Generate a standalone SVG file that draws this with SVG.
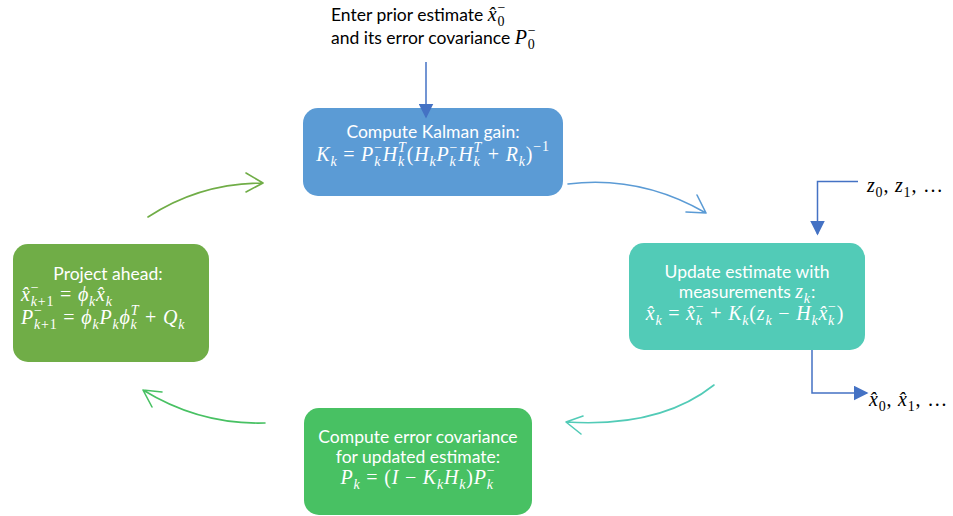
<svg xmlns="http://www.w3.org/2000/svg" width="953" height="516" viewBox="0 0 953 516">
  <style>
    .lbl { font-family: "Lato", "Liberation Sans", sans-serif; font-size: 17.5px; fill: #ffffff; }
    .cap { font-family: "Lato", "Liberation Sans", sans-serif; font-size: 17.5px; fill: #000000; }
    .m { font-family: "Liberation Serif", "DejaVu Serif", serif; font-style: italic; font-size: 20px; letter-spacing: 0.8px; }
    .s { font-size: 14px; }
    .u { font-style: normal; }
    .white { fill: #ffffff; }
    .black { fill: #000000; }
    .curve { fill: none; stroke-width: 1.6; stroke-linecap: round; stroke-linejoin: round; }
    .io { fill: none; stroke: #4472C4; stroke-width: 1.5; }
  </style>
  <defs>
    <marker id="solidHead" viewBox="0 0 10 10" refX="9" refY="5" markerWidth="15" markerHeight="15" markerUnits="userSpaceOnUse" orient="auto">
      <path d="M0,0 L10,5 L0,10 Z" fill="#4472C4"/>
    </marker>
  </defs>

  <!-- prior estimate caption -->
  <g id="prior">
    <text class="cap" x="331" y="21">Enter prior estimate <tspan class="m">x̂</tspan><tspan class="m s u" dy="5">0</tspan><tspan class="m s u" dx="-7.8" dy="-14">−</tspan></text>
    <text class="cap" x="331" y="44">and its error covariance <tspan class="m">P</tspan><tspan class="m s u" dy="5">0</tspan><tspan class="m s u" dx="-7.8" dy="-14">−</tspan></text>
  </g>

  <!-- Kalman gain -->
  <g id="gain">
    <rect x="303" y="108" width="260" height="88" rx="15" fill="#5B9BD5"/>
    <text class="lbl" x="433" y="138" text-anchor="middle">Compute Kalman gain:</text>
    <text class="m white" x="433" y="161" text-anchor="middle">K<tspan class="s" dy="5">k</tspan><tspan class="u" dy="-5"> = </tspan>P<tspan class="s" dy="5">k</tspan><tspan class="s u" dx="-7" dy="-14">−</tspan><tspan dy="9">H</tspan><tspan class="s" dy="5">k</tspan><tspan class="s" dx="-7" dy="-14">T</tspan><tspan class="u" dy="9">(</tspan>H<tspan class="s" dy="5">k</tspan><tspan dy="-5">P</tspan><tspan class="s" dy="5">k</tspan><tspan class="s u" dx="-7" dy="-14">−</tspan><tspan dy="9">H</tspan><tspan class="s" dy="5">k</tspan><tspan class="s" dx="-7" dy="-14">T</tspan><tspan class="u" dy="9"> + </tspan>R<tspan class="s" dy="5">k</tspan><tspan class="u" dy="-5">)</tspan><tspan class="s u" dy="-10">−1</tspan></text>
  </g>

  <!-- measurement update -->
  <g id="update">
    <rect x="629" y="243" width="236" height="107" rx="15" fill="#52CBB7"/>
    <text class="lbl" x="747" y="278" text-anchor="middle">Update estimate with</text>
    <text class="lbl" x="747" y="298" text-anchor="middle">measurements <tspan class="m">z</tspan><tspan class="m s" dy="5">k</tspan><tspan dy="-5">:</tspan></text>
    <text class="m white" x="745" y="320" text-anchor="middle">x̂<tspan class="s" dy="5">k</tspan><tspan class="u" dy="-5"> = </tspan>x̂<tspan class="s" dy="5">k</tspan><tspan class="s u" dx="-7" dy="-14">−</tspan><tspan class="u" dy="9"> + </tspan>K<tspan class="s" dy="5">k</tspan><tspan class="u" dy="-5">(</tspan>z<tspan class="s" dy="5">k</tspan><tspan class="u" dy="-5"> − </tspan>H<tspan class="s" dy="5">k</tspan><tspan dy="-5">x̂</tspan><tspan class="s" dy="5">k</tspan><tspan class="s u" dx="-7" dy="-14">−</tspan><tspan class="u" dy="9">)</tspan></text>
  </g>

  <!-- covariance update -->
  <g id="covariance">
    <rect x="304" y="408" width="228" height="107" rx="15" fill="#48C163"/>
    <text class="lbl" x="418" y="443" text-anchor="middle">Compute error covariance</text>
    <text class="lbl" x="418" y="463" text-anchor="middle">for updated estimate:</text>
    <text class="m white" x="418" y="484" text-anchor="middle">P<tspan class="s" dy="5">k</tspan><tspan class="u" dy="-5"> = (</tspan>I<tspan class="u"> − </tspan>K<tspan class="s" dy="5">k</tspan><tspan dy="-5">H</tspan><tspan class="s" dy="5">k</tspan><tspan class="u" dy="-5">)</tspan>P<tspan class="s" dy="5">k</tspan><tspan class="s u" dx="-7" dy="-14">−</tspan></text>
  </g>

  <!-- projection -->
  <g id="project">
    <rect x="13" y="244" width="196" height="118" rx="15" fill="#70AD47"/>
    <text class="lbl" x="108" y="280" text-anchor="middle">Project ahead:</text>
    <text class="m white" x="21" y="301">x̂<tspan class="s u" dy="-9">−</tspan><tspan class="s" dx="-8.7" dy="14">k</tspan><tspan class="s u">+1</tspan><tspan class="u" dy="-5"> = </tspan>ϕ<tspan class="s" dy="5">k</tspan><tspan dy="-5">x̂</tspan><tspan class="s" dy="5">k</tspan></text>
    <text class="m white" x="21" y="324">P<tspan class="s u" dy="-9">−</tspan><tspan class="s" dx="-8.7" dy="14">k</tspan><tspan class="s u">+1</tspan><tspan class="u" dy="-5"> = </tspan>ϕ<tspan class="s" dy="5">k</tspan><tspan dy="-5">P</tspan><tspan class="s" dy="5">k</tspan><tspan dy="-5">ϕ</tspan><tspan class="s" dy="5">k</tspan><tspan class="s" dx="-7" dy="-14">T</tspan><tspan class="u" dy="9"> + </tspan>Q<tspan class="s" dy="5">k</tspan></text>
  </g>

  <!-- measurement input and estimate output labels -->
  <g id="measurements">
    <text class="m black" x="867" y="192">z<tspan class="s u" dy="5">0</tspan><tspan class="u" dy="-5">, </tspan>z<tspan class="s u" dy="5">1</tspan><tspan class="u" dy="-5">, …</tspan></text>
  </g>
  <g id="estimates">
    <text class="m black" x="869" y="406">x̂<tspan class="s u" dy="5">0</tspan><tspan class="u" dy="-5">, </tspan>x̂<tspan class="s u" dy="5">1</tspan><tspan class="u" dy="-5">, …</tspan></text>
  </g>

  <!-- connectors -->
  <g id="connectors">
    <path class="io" d="M426,62 V117" marker-end="url(#solidHead)"/>
    <path class="io" d="M858,181.5 H817.5 V234" marker-end="url(#solidHead)"/>
    <path class="io" d="M812,350 V393 H867" marker-end="url(#solidHead)"/>

    <path class="curve" stroke="#70AD47" d="M148,217 Q200,183 263,183 M246,173 L263,183 L246,192"/>
    <path class="curve" stroke="#5B9BD5" d="M568,184 Q640,175 706,213 M697,195 L706,213 L686,212"/>
    <path class="curve" stroke="#52CBB7" d="M714,385 Q660,428 566,422 M583,416 L566,422 L581,434"/>
    <path class="curve" stroke="#48C163" d="M265,423 Q200,425 143,390 M162,392 L143,390 L152,407"/>
  </g>
</svg>
